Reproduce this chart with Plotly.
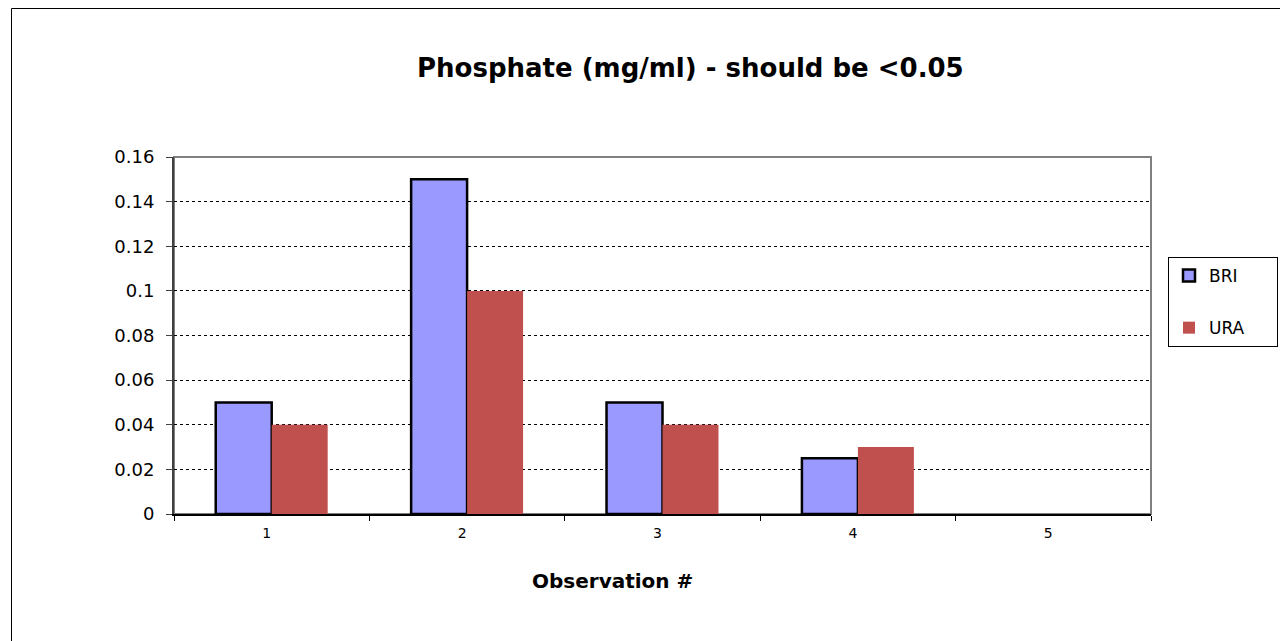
import plotly.graph_objects as go

categories = ["1", "2", "3", "4", "5"]
bri = [0.05, 0.15, 0.05, 0.025, None]
ura = [0.04, 0.10, 0.04, 0.03, None]
y_ticks = [0, 0.02, 0.04, 0.06, 0.08, 0.1, 0.12, 0.14, 0.16]
y_tick_text = ["0", "0.02", "0.04", "0.06", "0.08", "0.1", "0.12", "0.14", "0.16"]
series_names = ["BRI", "URA"]

OFF = 8  # page body margin
W, H = 1288, 641
L, T = 174 - OFF, 157 - OFF
R, B = W - (1151 - OFF), H - (514 - OFF)
pw, ph = W - L - R, H - T - B

def px_x(x):
    return (x - OFF - L) / pw

def px_y(y):
    return (H - B - (y - OFF)) / ph

FONT = "DejaVu Sans, Arial, sans-serif"
PAD = "\u00a0" * 5

fig = go.Figure()
fig.add_trace(go.Bar(x=categories, y=bri, name=series_names[0] + PAD, legendgroup="a",
                     hovertemplate=series_names[0] + ": %{y}<extra></extra>",
                     marker=dict(color="#9999FF", line=dict(color="#000000", width=2.5))))
fig.add_trace(go.Bar(x=categories, y=ura, name=series_names[1] + PAD, legendgroup="b",
                     hovertemplate=series_names[1] + ": %{y}<extra></extra>",
                     marker=dict(color="#C0504D", line=dict(width=0))))

fig.update_layout(
    width=W, height=H,
    margin=dict(l=L, r=R, t=T, b=B, pad=0),
    paper_bgcolor="white", plot_bgcolor="white",
    barmode="group", bargap=0.427, bargroupgap=0,
    font=dict(family=FONT, color="#000000"),
    showlegend=True,
    legend=dict(x=px_x(1168), y=px_y(257), xanchor="left", yanchor="top",
                bordercolor="#000000", borderwidth=1, bgcolor="white",
                font=dict(size=17, family=FONT), itemwidth=30, tracegroupgap=27,
                traceorder="grouped"),
    shapes=[
        dict(type="rect", xref="paper", yref="paper",
             x0=px_x(11.5), x1=px_x(1320), y0=px_y(680), y1=px_y(8.5),
             line=dict(color="#000000", width=1), layer="below"),
        dict(type="rect", xref="paper", yref="paper",
             x0=0, x1=1, y0=0, y1=1,
             line=dict(color="#808080", width=2), layer="below"),
    ],
    annotations=[
        dict(text="<b>Phosphate (mg/ml) - should be <0.05</b>", xref="paper", yref="paper",
             x=px_x(690), y=px_y(68), xanchor="center", yanchor="middle",
             showarrow=False, font=dict(size=26, family=FONT)),
        dict(text="<b>Observation #</b>", xref="paper", yref="paper",
             x=px_x(612), y=px_y(581), xanchor="center", yanchor="middle",
             showarrow=False, font=dict(size=20, family=FONT)),
    ],
)

fig.update_xaxes(
    type="category", showgrid=False, showline=True, linecolor="#000000", linewidth=1.5,
    ticks="outside", tickson="boundaries", ticklen=5, tickcolor="#000000",
    ticklabelstandoff=5, ticklabelshift=-5,
    tickfont=dict(size=14, family=FONT), zeroline=False,
)
fig.update_yaxes(
    range=[0, 0.16], tickvals=y_ticks, ticktext=y_tick_text,
    showgrid=True, gridcolor="#000000", gridwidth=1, griddash="dot",
    showline=True, linecolor="#404040", linewidth=2,
    ticks="outside", ticklen=6, tickcolor="#404040", ticklabelstandoff=8,
    tickfont=dict(size=18, family=FONT), zeroline=False,
)

fig.write_html("out.html")
